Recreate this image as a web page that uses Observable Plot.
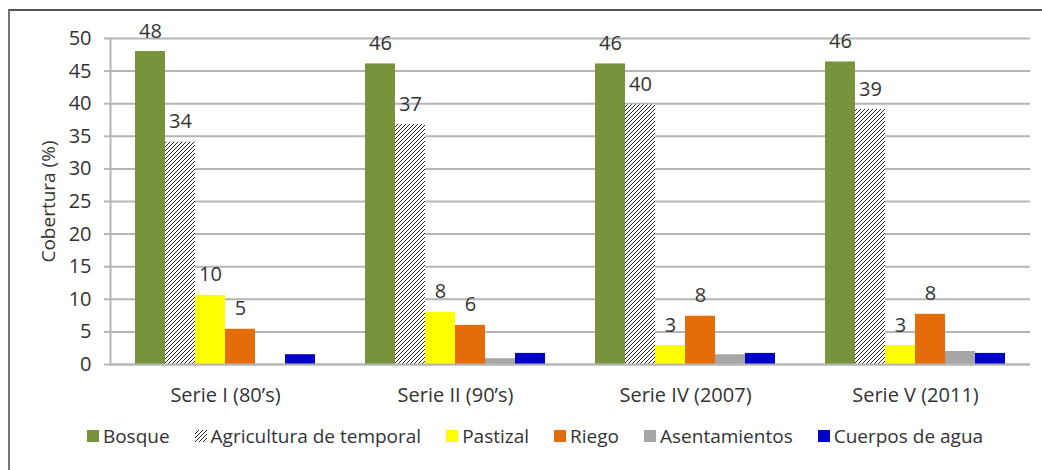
<!DOCTYPE html>
<html>
<head>
<meta charset="utf-8">
<script src="https://cdn.jsdelivr.net/npm/d3@7"></script>
<script src="https://cdn.jsdelivr.net/npm/@observablehq/plot@0.6"></script>
<style>
  html, body { margin: 0; padding: 0; background: #fff; }
  body { width: 1042px; height: 470px; position: relative; overflow: hidden; font-family: "Open Sans", sans-serif; color: #333; }
  #frame { position: absolute; left: 8px; top: 9px; width: 1060px; height: 480px; border-top: 2px solid #555; border-left: 2px solid #777; box-sizing: border-box; }
  #chart { position: absolute; left: 0; top: 0; }
  #legend { position: absolute; left: 0; top: 423px; width: 1070px; display: flex; justify-content: center; align-items: center; font-size: 19px; color: #333; }
  .item { display: flex; align-items: center; margin: 0 12.5px; }
  .sw { width: 12px; height: 12px; margin-right: 4px; display: block; }
</style>
</head>
<body>
<div id="frame"></div>
<div id="chart"></div>
<div id="legend"></div>
<script>
// ---- data ----
const groups = ["Serie I (80’s)", "Serie II (90’s)", "Serie IV (2007)", "Serie V (2011)"];
const categories = ["Bosque", "Agricultura de temporal", "Pastizal", "Riego", "Asentamientos", "Cuerpos de agua"];
const colors = ["#77933c", "url(#hatch)", "#ffff00", "#e46c0a", "#a6a6a6", "#0000c8"];

const bosque        = [48.0, 46.1, 46.1, 46.4];
const agricultura   = [34.1, 36.8, 39.8, 39.1];
const pastizal      = [10.6, 8.0, 2.9, 2.9];
const riego         = [5.4, 6.0, 7.4, 7.7];
const asentamientos = [0.0, 0.9, 1.5, 2.0];
const cuerpos       = [1.5, 1.7, 1.7, 1.7];

const bosqueLabels      = ["48", "46", "46", "46"];
const agriculturaLabels = ["34", "37", "40", "39"];
const pastizalLabels    = ["10", "8", "3", "3"];
const riegoLabels       = ["5", "6", "8", "8"];

const yTicks = [0, 5, 10, 15, 20, 25, 30, 35, 40, 45, 50];

// ---- table ----
const series = [bosque, agricultura, pastizal, riego, asentamientos, cuerpos];
const labelSeries = [bosqueLabels, agriculturaLabels, pastizalLabels, riegoLabels, null, null];
const data = groups.flatMap((g, i) => categories.map((c, j) => ({
  group: g, category: c, value: series[j][i], label: labelSeries[j] ? labelSeries[j][i] : null
})));

const gridColor = "#b5b5b5";

const chart = Plot.plot({
  width: 1042,
  height: 409,
  marginTop: 38,
  marginBottom: 45,
  marginLeft: 110,
  marginRight: 12,
  style: { fontFamily: "Open Sans, sans-serif", fontSize: "20px", color: "#333", background: "transparent", overflow: "visible" },
  fx: { domain: groups, padding: 0, label: null },
  x: { domain: categories, paddingInner: 0, paddingOuter: 0.75, axis: null },
  y: { domain: [0, 50] },
  color: { domain: categories, range: colors },
  marks: [
    Plot.gridY({ ticks: yTicks, stroke: gridColor, strokeOpacity: 1, strokeWidth: 2 }),
    Plot.axisY({ ticks: yTicks, tickSize: 6, tickPadding: 13, stroke: gridColor, strokeWidth: 2,
      label: null, fontSize: 20 }),
    Plot.axisY({ ticks: [], label: "Cobertura (%)", labelAnchor: "center", labelArrow: "none", labelOffset: 69, fontSize: 19 }),
    Plot.frame({ anchor: "left", facetAnchor: "left", stroke: gridColor, strokeWidth: 2 }),
    Plot.barY(data, { fx: "group", x: "category", y: "value", fill: "category" }),
    Plot.ruleY([0], { stroke: gridColor, strokeWidth: 2 }),
    Plot.text(data.filter(d => d.label), { fx: "group", x: "category", y: "value", text: "label",
      lineAnchor: "bottom", dy: -14, fontSize: 20, fill: "#333" }),
    Plot.axisFx({ anchor: "bottom", tickSize: 0, tickPadding: 23, label: null, fontSize: 20 })
  ]
});

// hatch pattern for "Agricultura de temporal"
function addHatch(svg, id) {
  const ns = "http://www.w3.org/2000/svg";
  const defs = document.createElementNS(ns, "defs");
  const pat = document.createElementNS(ns, "pattern");
  pat.setAttribute("id", id);
  pat.setAttribute("patternUnits", "userSpaceOnUse");
  pat.setAttribute("width", 4);
  pat.setAttribute("height", 4);
  const bg = document.createElementNS(ns, "rect");
  bg.setAttribute("width", 4); bg.setAttribute("height", 4); bg.setAttribute("fill", "#fff");
  const p = document.createElementNS(ns, "path");
  p.setAttribute("d", "M-1,1 l2,-2 M0,4 l4,-4 M3,5 l2,-2");
  p.setAttribute("stroke", "#222");
  p.setAttribute("stroke-width", 1);
  pat.appendChild(bg); pat.appendChild(p);
  defs.appendChild(pat);
  svg.insertBefore(defs, svg.firstChild);
}
addHatch(chart, "hatch");
document.getElementById("chart").appendChild(chart);

// legend
const legend = document.getElementById("legend");
categories.forEach((c, j) => {
  const item = document.createElement("div");
  item.className = "item";
  const sw = document.createElementNS("http://www.w3.org/2000/svg", "svg");
  sw.setAttribute("class", "sw");
  sw.setAttribute("width", 12); sw.setAttribute("height", 12);
  if (j === 1) addHatch(sw, "hatchLegend");
  const r = document.createElementNS("http://www.w3.org/2000/svg", "rect");
  r.setAttribute("width", 12); r.setAttribute("height", 12);
  r.setAttribute("fill", j === 1 ? "url(#hatchLegend)" : colors[j]);
  sw.appendChild(r);
  const t = document.createElement("span");
  t.textContent = c;
  item.appendChild(sw); item.appendChild(t);
  legend.appendChild(item);
});
</script>
</body>
</html>
